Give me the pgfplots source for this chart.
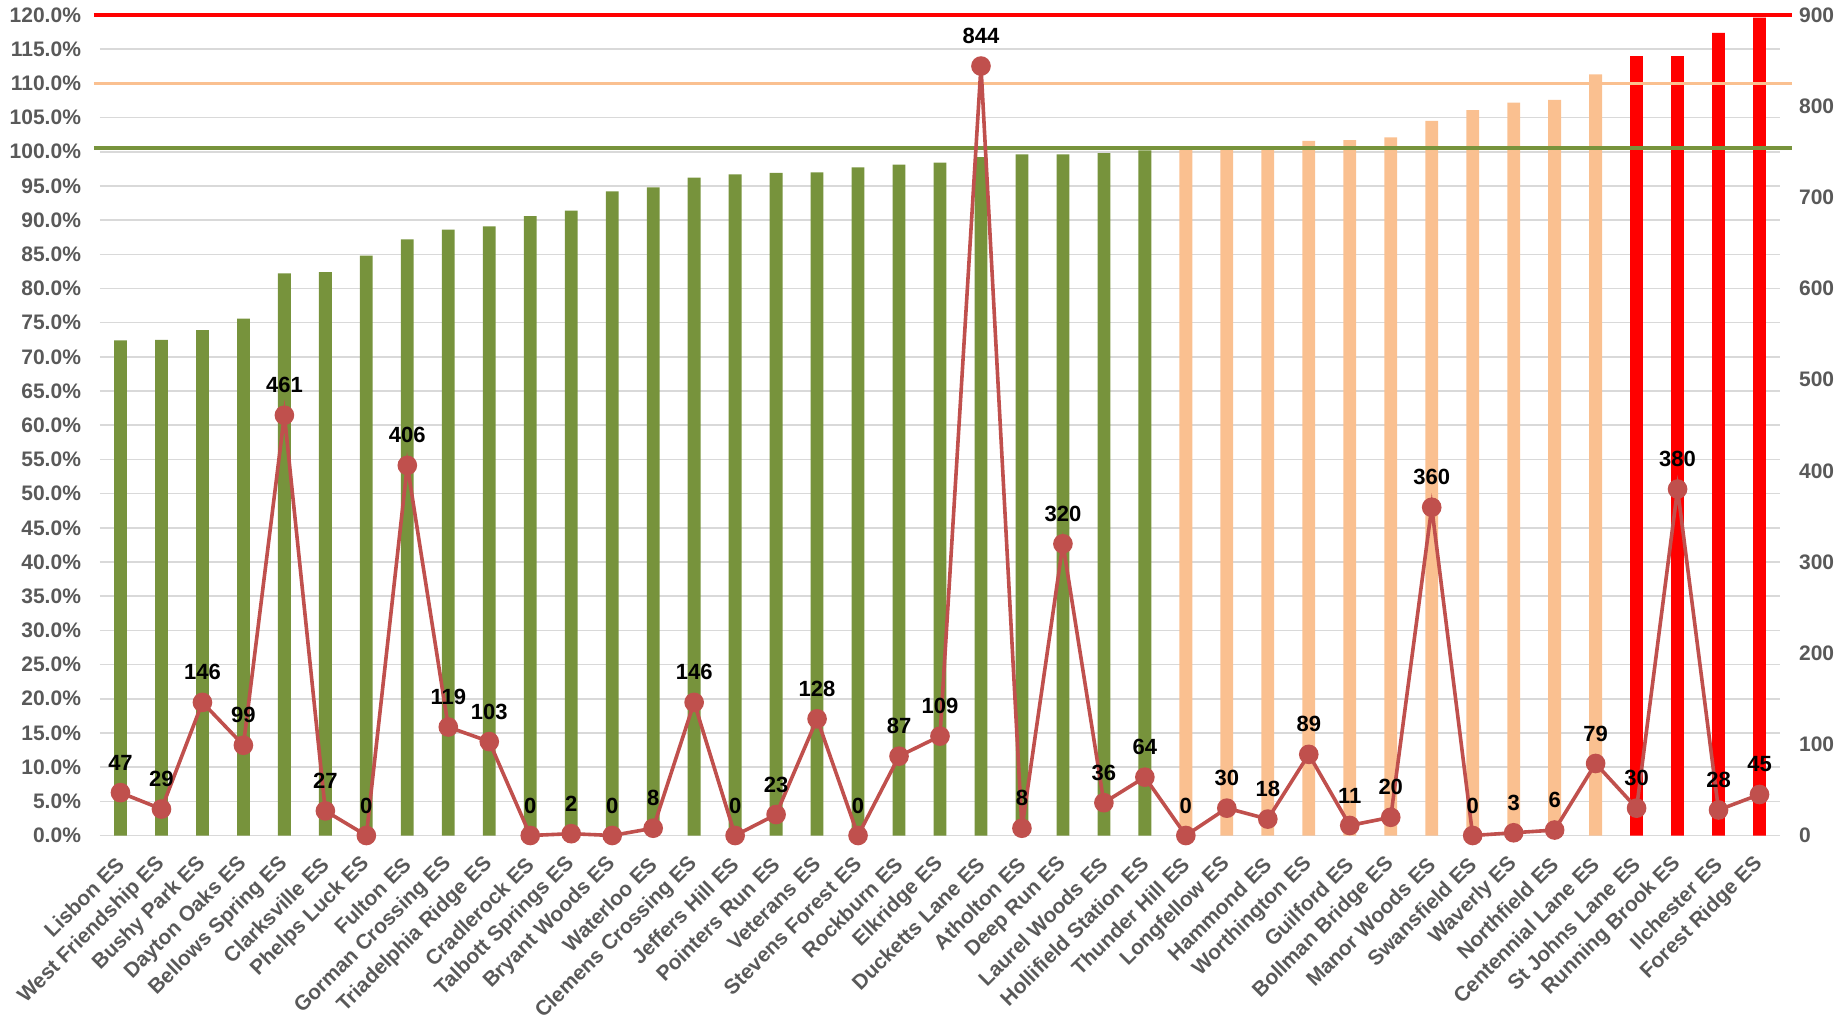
\documentclass[border=0pt]{standalone}
\usepackage{pgfplots}
\pgfplotsset{compat=1.18}
\usepackage{fontspec}
\setmainfont{Liberation Sans}
\definecolor{barG}{HTML}{77933C}
\definecolor{barO}{HTML}{FAC090}
\definecolor{barR}{HTML}{FF0000}
\definecolor{lineC}{HTML}{C0504D}
\definecolor{gridC}{HTML}{D9D9D9}
\definecolor{txtC}{HTML}{595959}
\begin{document}
\begin{tikzpicture}
\path[use as bounding box] (-50pt,-91.75pt) rectangle (871pt,417.75pt);
\begin{axis}[
  at={(0,0)}, anchor=south west,
  width=840pt, height=410.25pt, scale only axis,
  xmin=-0.5, xmax=40.5, ymin=0, ymax=120,
  clip=false,
  axis line style={draw=none},
  major tick length=0pt,
  ytick={0,5,...,120},
  ymajorgrids, grid style={gridC, line width=0.8pt},
  /pgf/number format/assume math mode=true,
  yticklabel={\pgfmathprintnumber[fixed,fixed zerofill,precision=1]{\tick}\%},
  yticklabel style={font=\fontsize{10.5}{12}\selectfont\bfseries, text=txtC, xshift=-6pt},
  xtick={0,...,40},
  xticklabels={Lisbon ES,West Friendship ES,Bushy Park ES,Dayton Oaks ES,Bellows Spring ES,Clarksville ES,Phelps Luck ES,Fulton ES,Gorman Crossing ES,Triadelphia Ridge ES,Cradlerock ES,Talbott Springs ES,Bryant Woods ES,Waterloo ES,Clemens Crossing ES,Jeffers Hill ES,Pointers Run ES,Veterans ES,Stevens Forest ES,Rockburn ES,Elkridge ES,Ducketts Lane ES,Atholton ES,Deep Run ES,Laurel Woods ES,Hollifield Station ES,Thunder Hill ES,Longfellow ES,Hammond ES,Worthington ES,Guilford ES,Bollman Bridge ES,Manor Woods ES,Swansfield ES,Waverly ES,Northfield ES,Centennial Lane ES,St Johns Lane ES,Running Brook ES,Ilchester ES,Forest Ridge ES},
  xticklabel style={xshift=0pt, yshift=-12.5pt, font=\fontsize{10.5}{12}\selectfont\bfseries, text=txtC, rotate=45, anchor=east, inner sep=0pt},
  ybar, bar width=6.4pt,
]
\addplot[fill=barG, draw=none, bar shift=0pt] coordinates {
(0,72.4) (1,72.5) (2,73.9) (3,75.6) (4,82.2) (5,82.4) (6,84.8) (7,87.2) (8,88.6) (9,89.1)
(10,90.6) (11,91.4) (12,94.2) (13,94.8) (14,96.2) (15,96.7) (16,96.9) (17,97.0) (18,97.7) (19,98.1)
(20,98.4) (21,99.2) (22,99.6) (23,99.6) (24,99.8) (25,100.2)};
\addplot[fill=barO, draw=none, bar shift=0pt] coordinates {
(26,100.4) (27,100.4) (28,100.5) (29,101.6) (30,101.7) (31,102.1) (32,104.5) (33,106.1) (34,107.2) (35,107.6) (36,111.3)};
\addplot[fill=barR, draw=none, bar shift=0pt] coordinates {
(37,114.0) (38,114.0) (39,117.4) (40,119.6)};
\addplot[sharp plot, draw=barO, line width=1.6pt] coordinates {(-0.65,110) (40.8,110)};
\addplot[sharp plot, draw=barG, line width=2pt] coordinates {(-0.65,100.5) (40.8,100.5)};
\addplot[sharp plot, draw=barR, line width=2pt] coordinates {(-0.65,120) (40.8,120)};
\end{axis}
\begin{axis}[
  at={(0,0)}, anchor=south west,
  width=840pt, height=410.25pt, scale only axis,
  xmin=-0.5, xmax=40.5, ymin=0, ymax=900,
  clip=false,
  axis x line=none,
  axis y line*=right,
  axis line style={draw=none},
  major tick length=0pt,
  ytick={0,100,...,900},
  /pgf/number format/assume math mode=true,
  yticklabel style={font=\fontsize{10.5}{12}\selectfont\bfseries, text=txtC, xshift=6pt},
]
\addplot[sharp plot, draw=lineC, line width=1.8pt, mark=*, mark size=4pt, mark options={fill=lineC, draw=lineC},
  nodes near coords, nodes near coords align={center},
  every node near coord/.append style={font=\fontsize{11}{13}\selectfont\bfseries, text=black, yshift=15pt}]
coordinates {
(0,47) (1,29) (2,146) (3,99) (4,461) (5,27) (6,0) (7,406) (8,119) (9,103)
(10,0) (11,2) (12,0) (13,8) (14,146) (15,0) (16,23) (17,128) (18,0) (19,87)
(20,109) (21,844) (22,8) (23,320) (24,36) (25,64) (26,0) (27,30) (28,18) (29,89)
(30,11) (31,20) (32,360) (33,0) (34,3) (35,6) (36,79) (37,30) (38,380) (39,28) (40,45)};
\end{axis}
\end{tikzpicture}
\end{document}
